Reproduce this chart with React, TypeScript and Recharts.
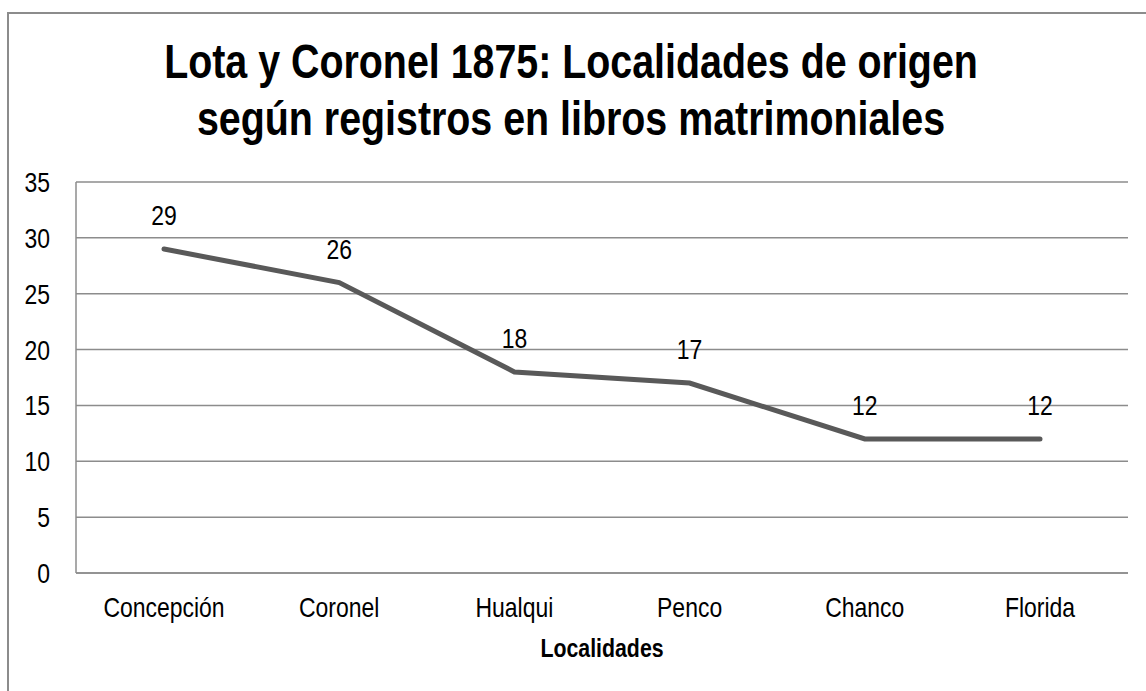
import React from 'react';
import { LineChart, Line, XAxis, YAxis, CartesianGrid, LabelList } from 'recharts';

const categories = ['Concepción', 'Coronel', 'Hualqui', 'Penco', 'Chanco', 'Florida'];
const values = [29, 26, 18, 17, 12, 12];
const yTicks = [0, 5, 10, 15, 20, 25, 30, 35];
const titleLines = ['Lota y Coronel 1875: Localidades de origen', 'según registros en libros matrimoniales'];
const xAxisTitle = 'Localidades';

const data = categories.map((c, i) => ({ name: c, value: values[i] }));

const FONT = '"Liberation Sans", Arial, sans-serif';
const NARROW = 0.82;

const XTick = (props: any) => {
  const { x, y, payload } = props;
  return (
    <g transform={`translate(${x},${y + 44})`}>
      <text transform={`scale(${NARROW},1)`} textAnchor="middle" fontSize={28} fontFamily={FONT} fill="#000">
        {payload.value}
      </text>
    </g>
  );
};

const YTick = (props: any) => {
  const { x, y, payload } = props;
  return (
    <g transform={`translate(${x - 26},${y + 10})`}>
      <text transform={`scale(${NARROW},1)`} textAnchor="end" fontSize={28} fontFamily={FONT} fill="#000">
        {payload.value}
      </text>
    </g>
  );
};

const ValueLabel = (props: any) => {
  const { x, y, value } = props;
  return (
    <g transform={`translate(${x},${y - 24})`}>
      <text transform={`scale(${NARROW},1)`} textAnchor="middle" fontSize={28} fontFamily={FONT} fill="#000">
        {value}
      </text>
    </g>
  );
};

export default function App() {
  return (
    <div style={{ position: 'absolute', left: 0, top: 0, width: 1146, height: 691, overflow: 'hidden', background: '#fff', fontFamily: FONT }}>
      <div style={{ position: 'absolute', left: 7, top: 12, width: 1200, height: 800, border: '2px solid #8c8c8c', boxSizing: 'border-box' }} />
      <div style={{ position: 'absolute', left: 0, top: 33, width: 1146, textAlign: 'center', fontWeight: 'bold', fontSize: 48, lineHeight: '57px', color: '#000', transform: `translateX(-2px) scaleX(${NARROW})`, transformOrigin: '573px 0' }}>
        {titleLines.map((t) => (<div key={t} style={{ whiteSpace: 'nowrap' }}>{t}</div>))}
      </div>
      <div style={{ position: 'absolute', left: 0, top: 0 }}>
        <LineChart width={1146} height={691} data={data} margin={{ top: 182, right: 18, bottom: 0, left: 0 }}>
          <CartesianGrid vertical={false} stroke="#8c8c8c" strokeWidth={1.5} />
          <XAxis
            dataKey="name"
            height={118}
            padding={{ left: 88, right: 88 }}
            axisLine={{ stroke: '#8c8c8c', strokeWidth: 1.5 }}
            tickLine={false}
            tickSize={0}
            tickMargin={0}
            tick={<XTick />}
            interval={0}
          />
          <YAxis
            width={76}
            domain={[0, 35]}
            ticks={yTicks}
            axisLine={{ stroke: '#8c8c8c', strokeWidth: 1.5 }}
            tickLine={false}
            tickSize={0}
            tickMargin={0}
            tick={<YTick />}
            interval={0}
          />
          <Line
            type="linear"
            dataKey="value"
            stroke="#595959"
            strokeWidth={5}
            strokeLinecap="round"
            dot={false}
            activeDot={false}
            isAnimationActive={false}
          >
            <LabelList dataKey="value" content={<ValueLabel />} />
          </Line>
        </LineChart>
      </div>
      <svg style={{ position: 'absolute', left: 0, top: 0 }} width={1146} height={691}>
        <g transform="translate(602,657)">
          <text transform={`scale(${NARROW},1)`} textAnchor="middle" fontSize={26} fontWeight="bold" fontFamily={FONT} fill="#000">
            {xAxisTitle}
          </text>
        </g>
      </svg>
    </div>
  );
}
